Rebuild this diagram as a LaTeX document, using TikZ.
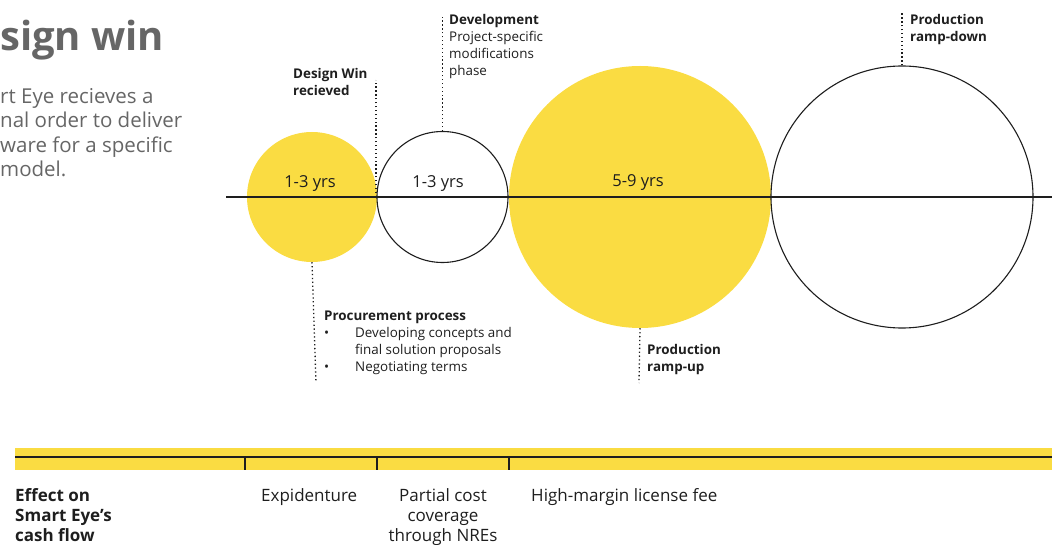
\documentclass[tikz,border=0pt]{standalone}
\usepackage{fontspec}
\setmainfont{Open Sans}
\definecolor{sey}{HTML}{FADC42}
\definecolor{txt}{HTML}{1E1E1E}
\definecolor{gry}{HTML}{666666}
\tikzset{
  ybub/.style={circle, fill=sey, inner sep=0pt},
  wbub/.style={circle, draw=txt, fill=white, line width=1.1pt, inner sep=0pt},
  lbl/.style={inner sep=0pt, text=txt, align=left, font=\fontsize{13.4}{16.9}\selectfont},
  yrs/.style={inner sep=0pt, text=txt, font=\fontsize{16.5}{20}\selectfont},
  bot/.style={inner sep=0pt, text=txt, font=\fontsize{17}{20.5}\selectfont},
  dots/.style={draw=txt, line width=1.3pt, dash pattern=on 1.3pt off 2.6pt},
  axis/.style={draw=txt, line width=1.1pt},
}
\begin{document}
\begin{tikzpicture}[x=1pt,y=-1pt]
\useasboundingbox (0,0) rectangle (1052,545);
% title and intro (cut at the left edge)
\node[anchor=base west, inner sep=0pt, text=gry, font=\fontsize{40}{44}\selectfont\bfseries] (title) at (0,51) {sign win};
\node[anchor=north west, inner sep=0pt, text=gry, align=left, font=\fontsize{20.5}{24.5}\selectfont] (intro) at (0,88) {rt Eye recieves a\\nal order to deliver\\ware for a specific\\ model.};
% bubbles
\node[ybub, minimum size=130pt] (c1) at (312,197) {};
\node[wbub, minimum size=131pt] (c2) at (442.5,197) {};
\node[ybub, minimum size=262pt] (c3) at (640,197) {};
\node[wbub, minimum size=262pt] (c4) at (902,197) {};
\coordinate (axL) at (226,197);
\coordinate (axR) at (1052,197);
\draw[axis] (axL) -- (axR);
\node[yrs] (y1) at (310,183.5) {1-3 yrs};
\node[yrs] (y2) at (438,183.5) {1-3 yrs};
\node[yrs] (y3) at (638,182.5) {5-9 yrs};
% dotted leaders
\coordinate (dwTop) at (376,80);
\coordinate (dwBot) at (376,197);
\coordinate (devTop) at (442.5,14);
\coordinate (procBot) at (316,383);
\coordinate (rupBot) at (639,383);
\coordinate (rdnTop) at (902,13);
\draw[dots] (dwBot) -- (dwTop);
\draw[dots] (c2.north) -- (devTop);
\draw[dots] (c1.south) -- (procBot);
\draw[dots] (c3.south) -- (rupBot);
\draw[dots] (c4.north) -- (rdnTop);
% labels
\node[lbl, anchor=north west] (dw) at (293,68) {\textbf{Design Win}\\\textbf{recieved}};
\node[lbl, anchor=north west] (dev) at (449,14.5) {\textbf{Development}\\Project-specific\\modifications\\phase};
\node[lbl, anchor=north west] (proc) at (324,311) {\textbf{Procurement process}\\\makebox[31pt][l]{\textbullet}Developing concepts and\\\hspace*{31pt}final solution proposals\\\makebox[31pt][l]{\textbullet}Negotiating terms};
\node[lbl, anchor=north west] (rup) at (647,344) {\textbf{Production}\\\textbf{ramp-up}};
\node[lbl, anchor=north west] (rdn) at (910,14.5) {\textbf{Production}\\\textbf{ramp-down}};
% cash-flow band
\fill[sey] (15,448) rectangle (1052,470);
\coordinate (bL) at (15,457);
\coordinate (bR) at (1052,457);
\draw[axis] (bL) -- (bR);
\foreach \x in {245,377,509} {\draw[axis] (\x,457) -- (\x,470);}
\node[bot, anchor=north west, align=left, font=\fontsize{17}{20.3}\selectfont\bfseries] (eff) at (15,488) {Effect on\\Smart Eye’s\\cash flow};
\node[bot, anchor=north west] (exp) at (261,488) {Expidenture};
\node[bot, anchor=north, align=center, font=\fontsize{17}{20.3}\selectfont] (pcc) at (443,488) {Partial cost\\coverage\\through NREs};
\node[bot, anchor=north west] (hm) at (531,488) {High-margin license fee};
\end{tikzpicture}
\end{document}
